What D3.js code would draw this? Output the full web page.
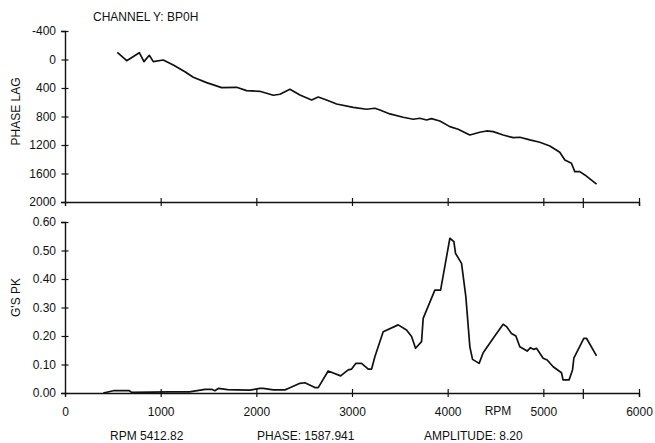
<!DOCTYPE html>
<html>
<head>
<meta charset="utf-8">
<script src="https://cdn.jsdelivr.net/npm/d3@7"></script>
<style>
  body { margin: 0; background: #fff; }
  svg text { font-family: "Liberation Sans", Arial, sans-serif; font-size: 12px; fill: #111; }
</style>
</head>
<body>
<svg id="chart"></svg>
<script>
// --------------------
//  data
// --------------------
const rpmPhase = [547, 645, 777, 825, 881, 923, 1027, 1132, 1254, 1341, 1480, 1637, 1794, 1898, 2037, 2177, 2247, 2351, 2456, 2578,
    2647, 2734, 2839, 3013, 3152, 3239, 3292, 3396, 3535, 3640, 3709, 3779, 3831, 3918, 4023, 4110, 4162, 4232, 4336, 4406,
    4476, 4580, 4685, 4754, 4859, 4963, 5068, 5172, 5225, 5294, 5329, 5381, 5434, 5556];
const phaseLag = [-101, 17, -95, 30, -59, 30, 7, 77, 171, 250, 325, 395, 390, 437, 446, 502, 488, 418, 498, 568,
    526, 568, 624, 671, 698, 684, 708, 764, 811, 839, 825, 849, 830, 863, 942, 979, 1013, 1059, 1021, 1003,
    1013, 1059, 1097, 1091, 1129, 1161, 1213, 1302, 1410, 1456, 1574, 1574, 1620, 1750];

const rpmAmp = [400, 505, 672, 697, 900, 1097, 1300, 1463, 1533, 1567, 1602, 1700, 1794, 1933, 2037, 2072, 2177, 2247, 2299, 2333,
    2456, 2508, 2612, 2647, 2751, 2881, 2960, 2996, 3041, 3100, 3170, 3205, 3239, 3326, 3483, 3570, 3623, 3664, 3727, 3744,
    3866, 3926, 4023, 4065, 4082, 4145, 4190, 4232, 4260, 4329, 4371, 4476, 4580, 4615, 4667, 4713, 4754, 4831, 4866, 4901,
    4929, 4998, 5040, 5103, 5190, 5206, 5269, 5305, 5319, 5423, 5451, 5556];
const ampPk = [0, .008, .008, .002, .003, .004, .004, .013, .013, .008, .016, .012, .011, .010, .016, .016, .011, .011, .011, .016,
    .034, .036, .019, .019, .077, .060, .081, .084, .104, .104, .084, .084, .127, .215, .239, .221, .198, .157, .180, .262,
    .361, .361, .543, .531, .490, .455, .338, .162, .118, .104, .141, .192, .241, .233, .209, .200, .162, .147, .159, .153,
    .157, .122, .116, .092, .071, .046, .046, .081, .122, .192, .192, .130];

const rpmTicks = [0, 1000, 2000, 3000, 4000, 5000, 6000];
const phaseTicks = [-400, 0, 400, 800, 1200, 1600, 2000];
const ampTicks = [0, 0.1, 0.2, 0.3, 0.4, 0.5, 0.6];
const cursorRpm = 5412.82;
const footer = ["RPM 5412.82", "PHASE: 1587.941", "AMPLITUDE: 8.20"];

// --------------------
//  scales
// --------------------
const width = 655, height = 443;
const svg = d3.select("#chart").attr("width", width).attr("height", height);

const x = d3.scaleLinear().domain([0, 6000]).range([65, 639]);
const yPhase = d3.scaleLinear().domain([-400, 2000]).range([31, 202]);
const yAmp = d3.scaleLinear().domain([0, 0.6]).range([393, 222]);

// 目盛りを軸の両側に出す
function crossTicks(g, horiz, len) {
    g.selectAll(".tick line")
        .attr(horiz ? "y1" : "x1", -len)
        .attr(horiz ? "y2" : "x2", len);
}

function styleAxis(g) {
    g.select(".domain").attr("stroke", "#111").attr("stroke-width", 1.4);
    g.selectAll(".tick line").attr("stroke", "#111").attr("stroke-width", 1.2);
    g.selectAll(".tick text").attr("font-size", null).attr("font-family", null).attr("fill", "#111");
}

// top panel
const gyP = svg.append("g").attr("transform", "translate(65,0)")
    .call(d3.axisLeft(yPhase).tickValues(phaseTicks).tickSizeOuter(0).tickSize(4).tickPadding(5).tickFormat(d => String(d)));
crossTicks(gyP, false, 3.5); styleAxis(gyP);

const gxP = svg.append("g").attr("transform", `translate(0,${yPhase(2000)})`)
    .call(d3.axisBottom(x).tickValues(rpmTicks.slice(1).concat([cursorRpm])).tickSizeOuter(0).tickSize(4).tickFormat(""));
crossTicks(gxP, true, 4); styleAxis(gxP);

// bottom panel
const gyA = svg.append("g").attr("transform", "translate(65,0)")
    .call(d3.axisLeft(yAmp).tickValues(ampTicks).tickSizeOuter(0).tickSize(4).tickPadding(5).tickFormat(d3.format(".2f")));
crossTicks(gyA, false, 3.5); styleAxis(gyA);

const gxA = svg.append("g").attr("transform", `translate(0,${yAmp(0)})`)
    .call(d3.axisBottom(x).tickValues(rpmTicks.concat([cursorRpm])).tickSizeOuter(0).tickSize(4).tickPadding(10)
        .tickFormat(d => d === cursorRpm ? "" : String(d)));
crossTicks(gxA, true, 4); styleAxis(gxA);
gxA.selectAll(".tick").filter(d => d === 0).select("line").remove();
gxA.selectAll(".tick").filter(d => d === cursorRpm).select("line").attr("y1", -4).attr("y2", 6);
gxP.selectAll(".tick").filter(d => d === cursorRpm).select("line").attr("y1", -4).attr("y2", 6);

// lines
const phaseLine = d3.line().x((d, i) => x(rpmPhase[i])).y(d => yPhase(d));
svg.append("path").datum(phaseLag)
    .attr("d", phaseLine).attr("fill", "none").attr("stroke", "#111").attr("stroke-width", 1.7)
    .attr("stroke-linejoin", "round");

const ampLine = d3.line().x((d, i) => x(rpmAmp[i])).y(d => yAmp(d));
svg.append("path").datum(ampPk)
    .attr("d", ampLine).attr("fill", "none").attr("stroke", "#111").attr("stroke-width", 1.7)
    .attr("stroke-linejoin", "round");

// labels
svg.append("text").attr("x", 93).attr("y", 21).text("CHANNEL Y: BP0H");
svg.append("text").attr("transform", "translate(19.5,111.5) rotate(-90)").attr("text-anchor", "middle").text("PHASE LAG");
svg.append("text").attr("transform", "translate(19.5,297.5) rotate(-90)").attr("text-anchor", "middle").text("G'S PK");
svg.append("text").attr("x", 498).attr("y", 415).attr("text-anchor", "middle").text("RPM");

svg.selectAll(".footer").data(footer).join("text")
    .attr("class", "footer")
    .attr("x", (d, i) => [110, 257, 424][i])
    .attr("y", 439.5)
    .text(d => d);
</script>
</body>
</html>
